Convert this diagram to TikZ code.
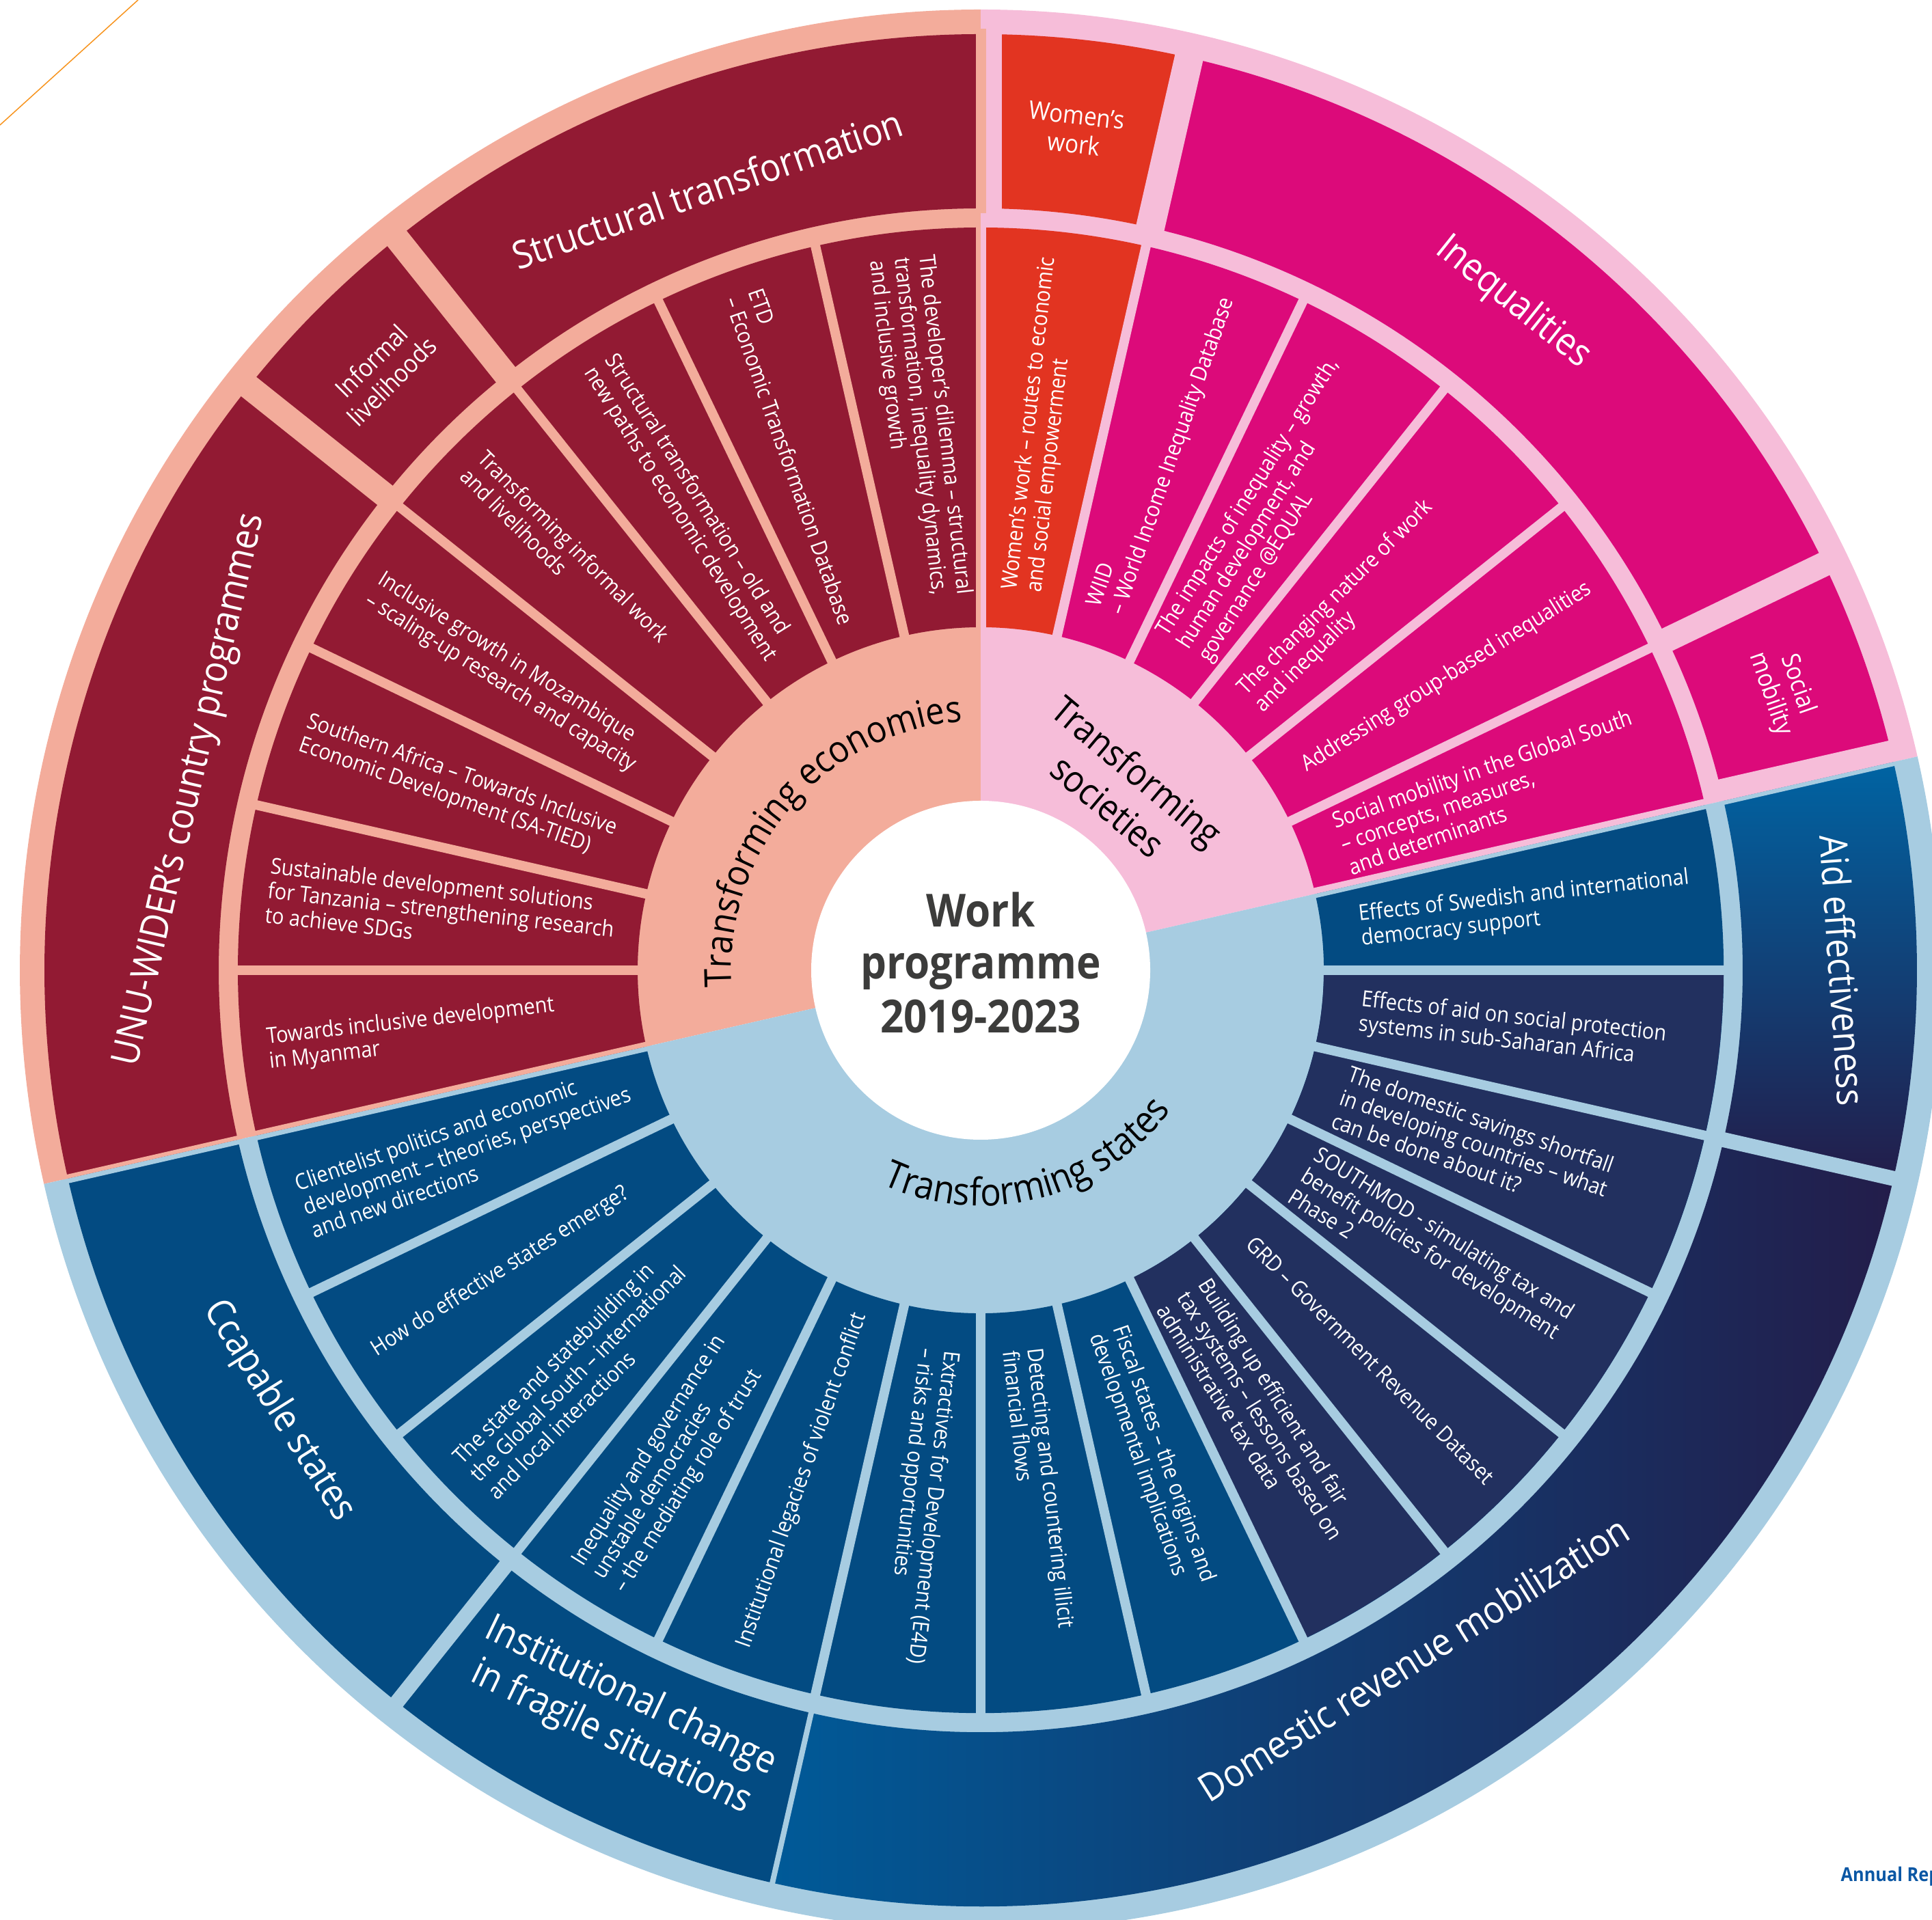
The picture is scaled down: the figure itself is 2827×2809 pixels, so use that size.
\documentclass[tikz,border=0pt]{standalone}
\usepackage{fontspec}
\setmainfont{Open Sans}[FakeStretch=0.9]
\usetikzlibrary{decorations.text}
\definecolor{salmon}{HTML}{F3AC9B}
\definecolor{wred}{HTML}{921A33}
\definecolor{pinkbg}{HTML}{F6BDD9}
\definecolor{wmagenta}{HTML}{DC0A7A}
\definecolor{wored}{HTML}{E23421}
\definecolor{lightbl}{HTML}{A7CCE1}
\definecolor{wblue}{HTML}{034B82}
\definecolor{wnavy}{HTML}{22305F}
\definecolor{gradtop}{HTML}{0064A3}
\definecolor{graddark}{HTML}{231D4A}
\definecolor{gradleft}{HTML}{005A98}
\definecolor{ctrgray}{HTML}{3C3C3B}
\definecolor{orangeln}{HTML}{F7941E}
\definecolor{annblue}{HTML}{0B57A4}
\newcommand{\ringseg}[5]{\path[#5] (#1:#3) arc[start angle=#1, end angle=#2, radius=#3] -- (#2:#4) arc[start angle=#2, end angle=#1, radius=#4] -- cycle;}
\newcommand{\piesec}[4]{\path[#4] (0,0) -- (#1:#3) arc[start angle=#1, end angle=#2, radius=#3] -- cycle;}
\newcommand{\gapln}[6]{\begin{scope}[rotate=#1]\draw[line width=#4*0.1mm, #5] (#2,#6) -- (#3,#6);\end{scope}}
\newcommand{\pfont}{\fontsize{9.2}{10.3}\selectfont}
\newcommand{\ofont}{\fontsize{16}{19}\selectfont}
\newcommand{\sfont}{\fontsize{10.5}{12}\selectfont}
\newcommand{\tfont}{\fontsize{15.5}{19}\selectfont}
\newcommand{\tsfont}{\fontsize{16}{19}\selectfont}
\tikzset{
 ptxt/.style={text=white, font=\pfont, align=left, inner sep=0pt, anchor=west},
 otxt/.style={text=white, font=\ofont, align=center, inner sep=0pt},
 stxt/.style={text=white, font=\sfont, align=center, inner sep=0pt},
 ctxt/.style={text=ctrgray, font=\fontsize{19}{22}\selectfont\bfseries, anchor=base, inner sep=0pt},
}
\begin{document}
\begin{tikzpicture}[x=0.1mm,y=0.1mm]
\useasboundingbox (0,0) rectangle (2827,2809);
\clip (0,0) rectangle (2827,2809);
\draw[orangeln, line width=0.15mm] (0,2626) -- (202,2809);
\node[font=\fontsize{8}{9}\selectfont\bfseries, text=annblue, anchor=base west, inner sep=0pt] (annual) at (2693,56) {Annual Rep};
\begin{scope}[shift={(1435,1389)}]
% theme backgrounds
\piesec{90}{192.857}{1406}{fill=salmon}
\piesec{12.857}{90}{1406}{fill=pinkbg}
\piesec{192.857}{372.857}{1406}{fill=lightbl}
% project ring
\ringseg{90}{192.857}{502}{1087}{fill=wred}
\ringseg{77.143}{90}{502}{1087}{fill=wored}
\ringseg{12.857}{77.143}{502}{1087}{fill=wmagenta}
\ringseg{-167.143}{12.857}{502}{1087}{fill=wblue}
\ringseg{-64.286}{0}{502}{1087}{fill=wnavy}
% outer ring
\ringseg{90}{192.857}{1115}{1370}{fill=wred}
\ringseg{77.143}{90}{1115}{1370}{fill=wored}
\ringseg{12.857}{77.143}{1115}{1370}{fill=wmagenta}
\ringseg{-12.857}{12.857}{1115}{1370}{top color=gradtop, bottom color=graddark}
\ringseg{-102.857}{-12.857}{1115}{1370}{left color=gradleft, right color=graddark}
\ringseg{-167.143}{-102.857}{1115}{1370}{fill=wblue}
% gaps in project ring
\foreach \a in {102.857,115.714,128.571,141.429,154.286,167.143,180} {\gapln{\a}{495}{1095}{14}{salmon}{0}}
\foreach \a in {25.714,38.571,51.429,64.286,77.143} {\gapln{\a}{495}{1095}{14}{pinkbg}{0}}
\foreach \a in {0,-12.857,-25.714,-38.571,-51.429,-64.286,-77.143,-90,-102.857,-115.714,-128.571,-141.429,-154.286} {\gapln{\a}{495}{1095}{14}{lightbl}{0}}
\gapln{90}{495}{1095}{7}{salmon}{3.5}
\gapln{90}{495}{1095}{8}{pinkbg}{-4}
\gapln{12.857}{495}{1095}{9}{pinkbg}{4.5}
\gapln{12.857}{495}{1095}{6}{lightbl}{-3}
\gapln{192.857}{495}{1095}{7}{lightbl}{3.5}
\gapln{192.857}{495}{1095}{7}{salmon}{-3.5}
% gaps in outer ring
\gapln{90}{1108}{1378}{15}{salmon}{0}
\gapln{90}{1108}{1378}{23}{pinkbg}{-19}
\gapln{128.571}{1108}{1378}{36}{salmon}{0}
\gapln{141.429}{1108}{1378}{36}{salmon}{0}
\gapln{77.143}{1108}{1378}{42}{pinkbg}{0}
\gapln{25.714}{1108}{1378}{36}{pinkbg}{0}
\gapln{12.857}{1108}{1378}{32}{pinkbg}{16}
\gapln{12.857}{1108}{1378}{6}{lightbl}{-3}
\gapln{-12.857}{1108}{1378}{22}{lightbl}{0}
\gapln{-102.857}{1108}{1378}{8}{lightbl}{0}
\gapln{-128.571}{1108}{1378}{22}{lightbl}{0}
\gapln{192.857}{1108}{1378}{7}{lightbl}{3.5}
\gapln{192.857}{1108}{1378}{6}{salmon}{-3}
% centre
\fill[white] (0,0) circle[radius=248];
\node[ctxt] (c1) at (0,63) {Work};
\node[ctxt] (c2) at (0,-13) {programme};
\node[ctxt] (c3) at (0,-92) {2019-2023};
% theme labels
\path[decorate, decoration={text along path, text align=center, text={|\tfont|Transforming economies}}] (200:365) arc[start angle=200, end angle=78, radius=365];
\path[decorate, decoration={text along path, text align=center, text={|\tsfont|Transforming states}}] (-140.5:345) arc[start angle=-140.5, end angle=-10.5, radius=345];
\node[font=\tfont, align=center, rotate=-40, inner sep=0pt] (tsoc) at (52:338) {Transforming\\societies};
% economies projects
\node[ptxt, rotate=-83.57] (e1) at (96.43:1050) {The developer's dilemma – structural\\transformation, inequality dynamics,\\and inclusive growth};
\node[ptxt, rotate=-70.71] (e2) at (109.29:1050) {ETD\\– Economic Transformation Database};
\node[ptxt, rotate=-57.86] (e3) at (122.14:1050) {Structural transformation – old and\\new paths to economic development};
\node[ptxt, rotate=-45] (e4) at (135:1050) {Transforming informal work\\and livelihoods};
\node[ptxt, rotate=-32.14] (e5) at (147.86:1050) {Inclusive growth in Mozambique\\– scaling-up research and capacity};
\node[ptxt, rotate=-19.29] (e6) at (160.71:1050) {Southern Africa – Towards Inclusive\\Economic Development (SA-TIED)};
\node[ptxt, rotate=-6.43] (e7) at (173.57:1050) {Sustainable development solutions\\for Tanzania – strengthening research\\to achieve SDGs};
\node[ptxt, rotate=6.43] (e8) at (186.43:1050) {Towards inclusive development\\in Myanmar};
% societies projects
\node[ptxt, rotate=83.57] (s1) at (83.57:558) {Women's work – routes to economic\\and social empowerment};
\node[ptxt, rotate=70.71] (s2) at (70.71:558) {WIID\\– World Income Inequality Database};
\node[ptxt, rotate=57.86] (s3) at (57.86:558) {The impacts of inequality – growth,\\human development, and\\governance @EQUAL};
\node[ptxt, rotate=45] (s4) at (45:558) {The changing nature of work\\and inequality};
\node[ptxt, rotate=32.14] (s5) at (32.14:558) {Addressing group-based inequalities};
\node[ptxt, rotate=19.29] (s6) at (19.29:558) {Social mobility in the Global South\\– concepts, measures,\\and determinants};
% states projects
\node[ptxt, rotate=6.43] (t1) at (6.43:558) {Effects of Swedish and international\\democracy support};
\node[ptxt, rotate=-6.43] (t2) at (-6.43:558) {Effects of aid on social protection\\systems in sub-Saharan Africa};
\node[ptxt, rotate=-19.29] (t3) at (-19.29:558) {The domestic savings shortfall\\in developing countries – what\\can be done about it?};
\node[ptxt, rotate=-32.14] (t4) at (-32.14:558) {SOUTHMOD - simulating tax and\\benefit policies for development\\Phase 2};
\node[ptxt, rotate=-45] (t5) at (-45:558) {GRD – Government Revenue Dataset};
\node[ptxt, rotate=-57.86] (t6) at (-57.86:558) {Building up efficient and fair\\tax systems – lessons based on\\administrative tax data};
\node[ptxt, rotate=-70.71] (t7) at (-70.71:558) {Fiscal states – the origins and\\developmental implications};
\node[ptxt, rotate=-83.57] (t8) at (-83.57:558) {Detecting and countering illicit\\financial flows};
\node[ptxt, rotate=-96.43] (t9) at (-96.43:558) {Extractives for Development (E4D)\\– risks and opportunities};
\node[ptxt, rotate=70.71] (t10) at (-109.29:1050) {Institutional legacies of violent conflict};
\node[ptxt, rotate=57.86] (t11) at (-122.14:1050) {Inequality and governance in\\unstable democracies\\– the mediating role of trust};
\node[ptxt, rotate=45] (t12) at (-135:1050) {The state and statebuilding in\\the Global South – international\\and local interactions};
\node[ptxt, rotate=32.14] (t13) at (-147.86:1050) {How do effective states emerge?};
\node[ptxt, rotate=19.29] (t14) at (-160.71:1050) {Clientelist politics and economic\\development – theories, perspectives\\and new directions};
% outer labels
\node[otxt, rotate=19.29] (o1) at (109.29:1212) {Structural transformation};
\node[stxt, rotate=45] (o2) at (135:1240) {Informal\\livelihoods};
\node[otxt, rotate=77.14] (o3) at (167.14:1185) {UNU-WIDER’s country programmes};
\node[stxt, rotate=-6.43] (o4) at (83.57:1238) {Women's\\work};
\node[otxt, rotate=-38.57] (o5) at (51.43:1250) {Inequalities};
\node[stxt, rotate=-70.71] (o6) at (19.29:1245) {Social\\mobility};
\node[otxt, rotate=-86] (o7) at (0:1262) {Aid effectiveness};
\node[otxt, rotate=32.14] (o8) at (-57.86:1190) {Domestic revenue mobilization};
\node[otxt, rotate=-25.71] (o9) at (-115.71:1214) {Institutional change\\in fragile situations};
\node[otxt, rotate=-57.86] (o10) at (-147.86:1213) {Ccapable states};
\end{scope}
\end{tikzpicture}
\end{document}
